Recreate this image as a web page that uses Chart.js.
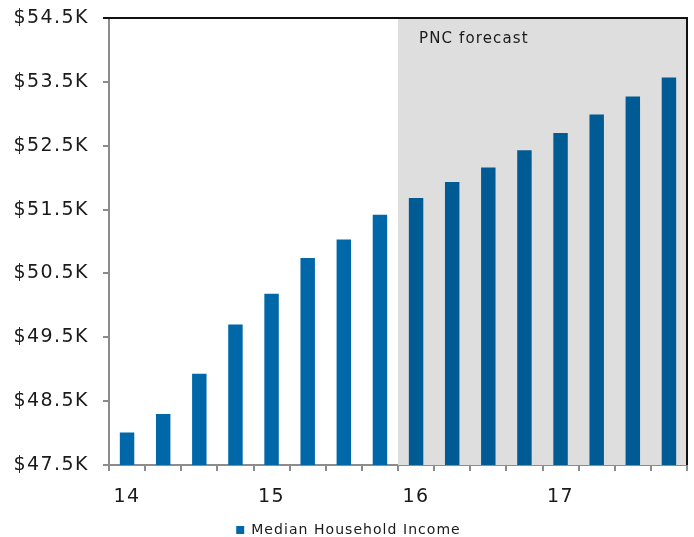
<!DOCTYPE html>
<html>
<head>
<meta charset="utf-8">
<title>Median Household Income</title>
<script src="https://cdn.jsdelivr.net/npm/chart.js@4/dist/chart.umd.min.js"></script>
<style>
  html, body { margin: 0; padding: 0; background: #ffffff; }
  canvas { display: block; }
</style>
</head>
<body>
<canvas id="c" width="694" height="537"></canvas>
<script>
// Quarterly median household income, thousands of dollars
const quarters = [
  '2014Q1', '2014Q2', '2014Q3', '2014Q4',
  '2015Q1', '2015Q2', '2015Q3', '2015Q4',
  '2016Q1', '2016Q2', '2016Q3', '2016Q4',
  '2017Q1', '2017Q2', '2017Q3', '2017Q4'
];
const yearLabels = ['14', '', '', '', '15', '', '', '', '16', '', '', '', '17', '', '', ''];
const income = [
  48.01, 48.30, 48.93, 49.70,
  50.18, 50.74, 51.03, 51.42,
  51.68, 51.93, 52.16, 52.43,
  52.70, 52.99, 53.27, 53.57
];
const yTicks = [47.5, 48.5, 49.5, 50.5, 51.5, 52.5, 53.5, 54.5];
const forecastStart = 8;          // first quarter of the forecast period
const forecastLabel = 'PNC forecast';
const seriesName = 'Median Household Income';

const actualColor = '#0067A8';
const forecastColor = '#005A93';
const textColor = '#1a1a1a';
const axisColor = '#8c8c8c';

Chart.defaults.font.family = '"DejaVu Sans", Verdana, sans-serif';
Chart.defaults.color = textColor;

const canvas = document.getElementById('c');
const ctx = canvas.getContext('2d');

// Open up the lettering a little, in proportion to the font size
const trackingFor = c => {
  const m = /(\d+(?:\.\d+)?)px/.exec(c.font);
  return m ? (parseFloat(m[1]) * 0.075).toFixed(2) + 'px' : '0px';
};
const baseFillText = ctx.fillText;
const baseMeasureText = ctx.measureText;
ctx.fillText = function (...args) {
  this.letterSpacing = trackingFor(this);
  return baseFillText.apply(this, args);
};
ctx.measureText = function (...args) {
  this.letterSpacing = trackingFor(this);
  return baseMeasureText.apply(this, args);
};

// Grey band behind the forecast quarters, with its caption
const forecastBand = {
  id: 'forecastBand',
  beforeDatasetsDraw(chart) {
    const { ctx, chartArea, scales: { x } } = chart;
    const left = (x.getPixelForValue(forecastStart - 1) + x.getPixelForValue(forecastStart)) / 2;
    ctx.save();
    ctx.fillStyle = '#dedede';
    ctx.fillRect(left, chartArea.top, chartArea.right - left, chartArea.bottom - chartArea.top);
    ctx.fillStyle = textColor;
    ctx.font = '15px "DejaVu Sans", Verdana, sans-serif';
    ctx.textAlign = 'left';
    ctx.textBaseline = 'middle';
    ctx.fillText(forecastLabel, left + 21, chartArea.top + 21);
    ctx.restore();
  }
};

// Dark frame along the top and right of the plot
const plotFrame = {
  id: 'plotFrame',
  afterDraw(chart) {
    const { ctx, chartArea } = chart;
    ctx.save();
    ctx.strokeStyle = '#111111';
    ctx.lineWidth = 2;
    ctx.beginPath();
    ctx.moveTo(chartArea.left - 6, chartArea.top);
    ctx.lineTo(chartArea.right, chartArea.top);
    ctx.lineTo(chartArea.right, chartArea.bottom);
    ctx.stroke();
    ctx.restore();
  }
};

new Chart(ctx, {
  type: 'bar',
  data: {
    labels: quarters,
    datasets: [{
      label: seriesName,
      data: income,
      backgroundColor: income.map((_, i) => i >= forecastStart ? forecastColor : actualColor),
      borderWidth: 0,
      barPercentage: 0.4,
      categoryPercentage: 1.0
    }]
  },
  options: {
    responsive: false,
    animation: false,
    layout: { padding: { top: 18, right: 7, left: 10, bottom: -10 } },
    plugins: {
      legend: {
        position: 'bottom',
        labels: {
          boxWidth: 8,
          boxHeight: 8,
          padding: 20,
          color: textColor,
          font: { size: 14 }
        }
      },
      tooltip: { enabled: false }
    },
    scales: {
      x: {
        grid: { drawOnChartArea: false, offset: true, tickLength: 6, color: axisColor, lineWidth: 2 },
        border: { color: axisColor, width: 2 },
        ticks: {
          autoSkip: false,
          maxRotation: 0,
          padding: 15,
          color: textColor,
          font: { size: 19 },
          callback: (v, i) => yearLabels[i]
        },
        afterFit: s => { s.height = 38; }
      },
      y: {
        min: yTicks[0],
        max: yTicks[yTicks.length - 1],
        grid: { drawOnChartArea: false, tickLength: 6, color: axisColor, lineWidth: 2 },
        border: { color: axisColor, width: 2 },
        ticks: {
          padding: 14,
          color: textColor,
          font: { size: 19 },
          callback: v => '$' + v.toFixed(1) + 'K'
        },
        afterBuildTicks: s => { s.ticks = yTicks.map(v => ({ value: v })); },
        afterFit: s => {
          s.width = 99;
          s.paddingTop = 0;
          s.paddingBottom = 0;
        }
      }
    }
  },
  plugins: [forecastBand, plotFrame]
});
</script>
</body>
</html>
